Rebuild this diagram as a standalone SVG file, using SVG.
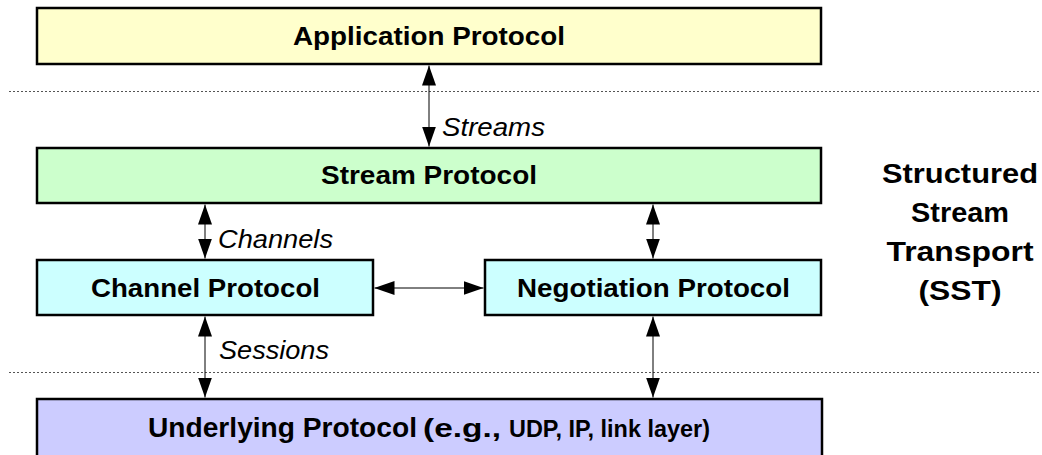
<svg xmlns="http://www.w3.org/2000/svg" width="1042" height="455" viewBox="0 0 1042 455">
<style>
.box{stroke:#000;stroke-width:2.5}
.lbl{font-family:"Liberation Sans",Arial,sans-serif;font-weight:bold;font-size:26px;fill:#000;text-anchor:middle}
.it{font-family:"Liberation Sans",Arial,sans-serif;font-style:italic;font-size:26px;fill:#000}
.sst{font-family:"Liberation Sans",Arial,sans-serif;font-weight:bold;font-size:28px;fill:#000;text-anchor:middle}
.dot{stroke:#555;stroke-width:1;stroke-dasharray:2 2;fill:none}
.conn{stroke:#000;stroke-width:1;fill:none;marker-start:url(#ah);marker-end:url(#ah)}
</style>
<defs>
<marker id="ah" viewBox="0 0 20 14" refX="20" refY="7" markerWidth="20" markerHeight="14" markerUnits="userSpaceOnUse" orient="auto-start-reverse">
<path d="M0,0 L20,7 L0,14 z" fill="#000"/>
</marker>
</defs>
<rect width="1042" height="455" fill="#fff"/>
<g id="layers">
<line class="dot" x1="9" y1="91.5" x2="1040" y2="91.5"/>
<line class="dot" x1="9" y1="372.5" x2="1040" y2="372.5"/>
</g>
<g id="app">
<rect class="box" x="37" y="8" width="784" height="56" fill="#ffffcc"/>
<text class="lbl" x="429" y="45" textLength="272" lengthAdjust="spacingAndGlyphs">Application Protocol</text>
</g>
<g id="stream">
<rect class="box" x="37" y="148" width="784" height="55" fill="#ccffcc"/>
<text class="lbl" x="429" y="184" textLength="216" lengthAdjust="spacingAndGlyphs">Stream Protocol</text>
</g>
<g id="channel">
<rect class="box" x="37" y="260" width="336" height="55" fill="#ccffff"/>
<text class="lbl" x="205.5" y="297" textLength="229" lengthAdjust="spacingAndGlyphs">Channel Protocol</text>
</g>
<g id="negotiation">
<rect class="box" x="485" y="260" width="336" height="55" fill="#ccffff"/>
<text class="lbl" x="653.5" y="297" textLength="273" lengthAdjust="spacingAndGlyphs">Negotiation Protocol</text>
</g>
<g id="underlying">
<rect class="box" x="37" y="399" width="785" height="58" fill="#ccccff"/>
<text font-family="Liberation Sans, Arial, sans-serif" font-weight="bold" fill="#000" y="437"><tspan x="148" font-size="27" textLength="269" lengthAdjust="spacingAndGlyphs">Underlying Protocol</tspan><tspan x="423" font-size="25" textLength="78" lengthAdjust="spacingAndGlyphs">(e.g.,</tspan><tspan x="509" font-size="23" textLength="201" lengthAdjust="spacingAndGlyphs">UDP, IP, link layer)</tspan></text>
</g>
<g id="sst">
<text class="sst" x="960" y="183" textLength="156" lengthAdjust="spacingAndGlyphs">Structured</text>
<text class="sst" x="960" y="222" textLength="98" lengthAdjust="spacingAndGlyphs">Stream</text>
<text class="sst" x="960" y="261" textLength="147" lengthAdjust="spacingAndGlyphs">Transport</text>
<text class="sst" x="960" y="300" textLength="83" lengthAdjust="spacingAndGlyphs">(SST)</text>
</g>
<g id="connectors">
<line class="conn" x1="429" y1="65.5" x2="429" y2="146.5"/>
<line class="conn" x1="205" y1="204.5" x2="205" y2="258.5"/>
<line class="conn" x1="653" y1="204.5" x2="653" y2="258.5"/>
<line class="conn" x1="374.5" y1="288" x2="483.5" y2="288"/>
<line class="conn" x1="205" y1="316.5" x2="205" y2="397.5"/>
<line class="conn" x1="653" y1="316.5" x2="653" y2="397.5"/>
<text class="it" x="442" y="136" textLength="103" lengthAdjust="spacingAndGlyphs">Streams</text>
<text class="it" x="218" y="248" textLength="115" lengthAdjust="spacingAndGlyphs">Channels</text>
<text class="it" x="219" y="359" textLength="110" lengthAdjust="spacingAndGlyphs">Sessions</text>
</g>
</svg>
